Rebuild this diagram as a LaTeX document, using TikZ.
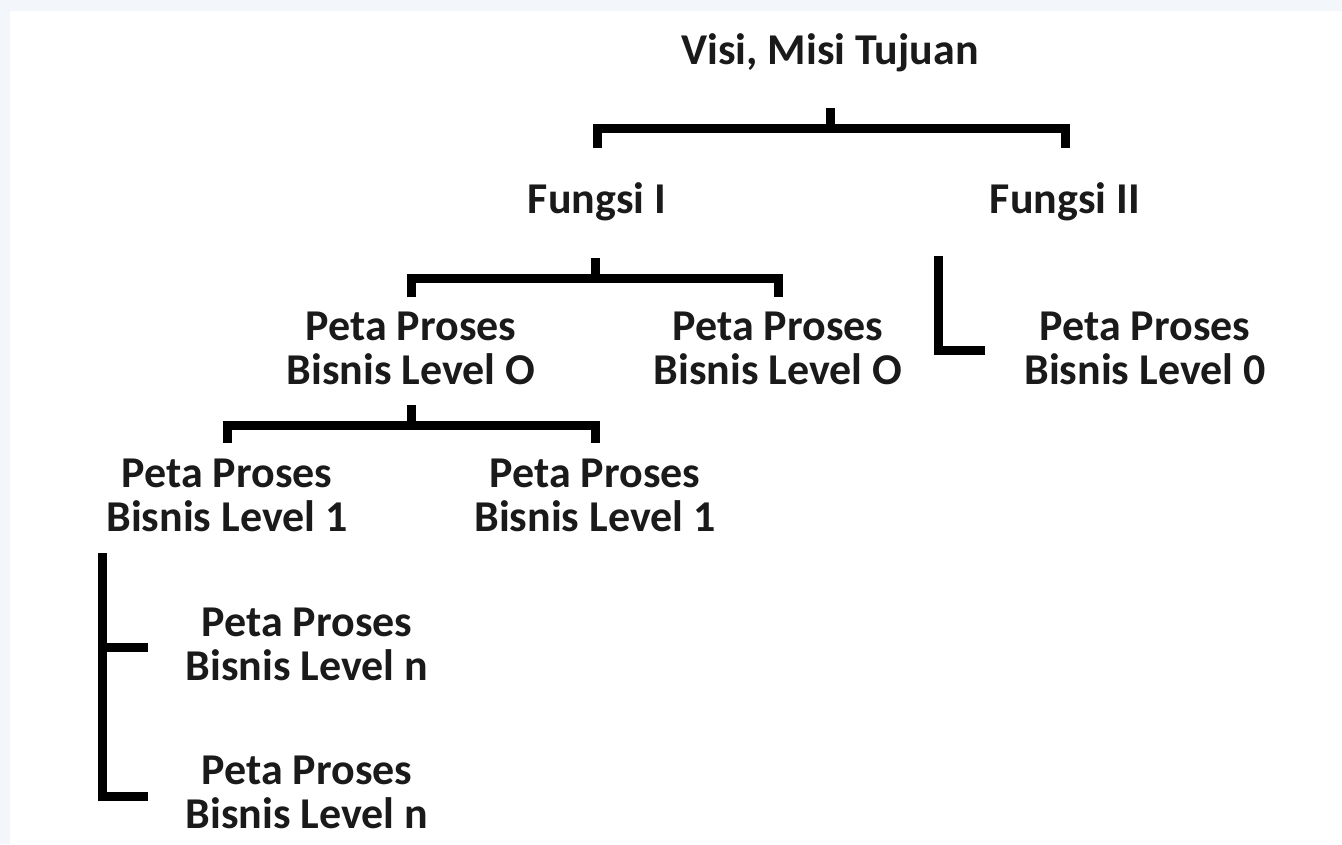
\documentclass[tikz,border=0pt]{standalone}
\usepackage{fontspec}
\setmainfont{Carlito}
\definecolor{bgblue}{HTML}{F3F7FC}
\definecolor{txt}{HTML}{1A1A1A}
\begin{document}
\begin{tikzpicture}[x=1pt,y=-1pt,
  lbl/.style={font=\fontsize{44}{43.5}\selectfont\bfseries, align=center, inner sep=0pt, anchor=base, text=txt},
  conn/.style={line width=9pt, line join=miter, draw=black}]
\useasboundingbox (0,0) rectangle (1342,844);
\fill[bgblue] (0,0) rectangle (1342,844);
\fill[white] (10,11) rectangle (1342,844);
% nodes (base anchor = baseline of the last line)
\node[lbl] (vmt) at (830,64) {Visi, Misi Tujuan};
\node[lbl] (f1) at (597,213) {Fungsi I};
\node[lbl] (f2) at (1065,213) {Fungsi II};
\node[lbl] (p0a) at (411,384) {Peta Proses\\Bisnis Level O};
\node[lbl] (p0b) at (778,384) {Peta Proses\\Bisnis Level O};
\node[lbl] (p0c) at (1145,384) {Peta Proses\\Bisnis Level 0};
\node[lbl] (p1a) at (227,531) {Peta Proses\\Bisnis Level 1};
\node[lbl] (p1b) at (595,531) {Peta Proses\\Bisnis Level 1};
\node[lbl] (pna) at (307,680) {Peta Proses\\Bisnis Level n};
\node[lbl] (pnb) at (307,828) {Peta Proses\\Bisnis Level n};
% connectors
\coordinate (t0) at (830,108);
\coordinate (t1) at (830,128);
\draw[conn] (t0) -- (t1);
\draw[conn] (f1 |- 0,148) -- (f1 |- 0,128) -- (f2 |- 0,128) -- (f2 |- 0,148);
\coordinate (u0) at (595,258);
\coordinate (u1) at (595,278);
\draw[conn] (u0) -- (u1);
\draw[conn] (p0a |- 0,297) -- (p0a |- 0,278) -- (p0b |- 0,278) -- (p0b |- 0,297);
\coordinate (w0) at (411,405);
\coordinate (w1) at (411,425);
\draw[conn] (w0) -- (w1);
\draw[conn] (p1a |- 0,443) -- (p1a |- 0,425) -- (p1b |- 0,425) -- (p1b |- 0,443);
\coordinate (v0) at (938,256);
\coordinate (v1) at (938,350);
\coordinate (v2) at (985,350);
\draw[conn] (v0) -- (v1) -- (v2);
\coordinate (l0) at (102,553);
\coordinate (l1) at (102,796);
\coordinate (l2) at (148,796);
\coordinate (m1) at (102,647);
\coordinate (m2) at (148,647);
\draw[conn] (l0) -- (l1) -- (l2);
\draw[conn] (m1) -- (m2);
\end{tikzpicture}
\end{document}
